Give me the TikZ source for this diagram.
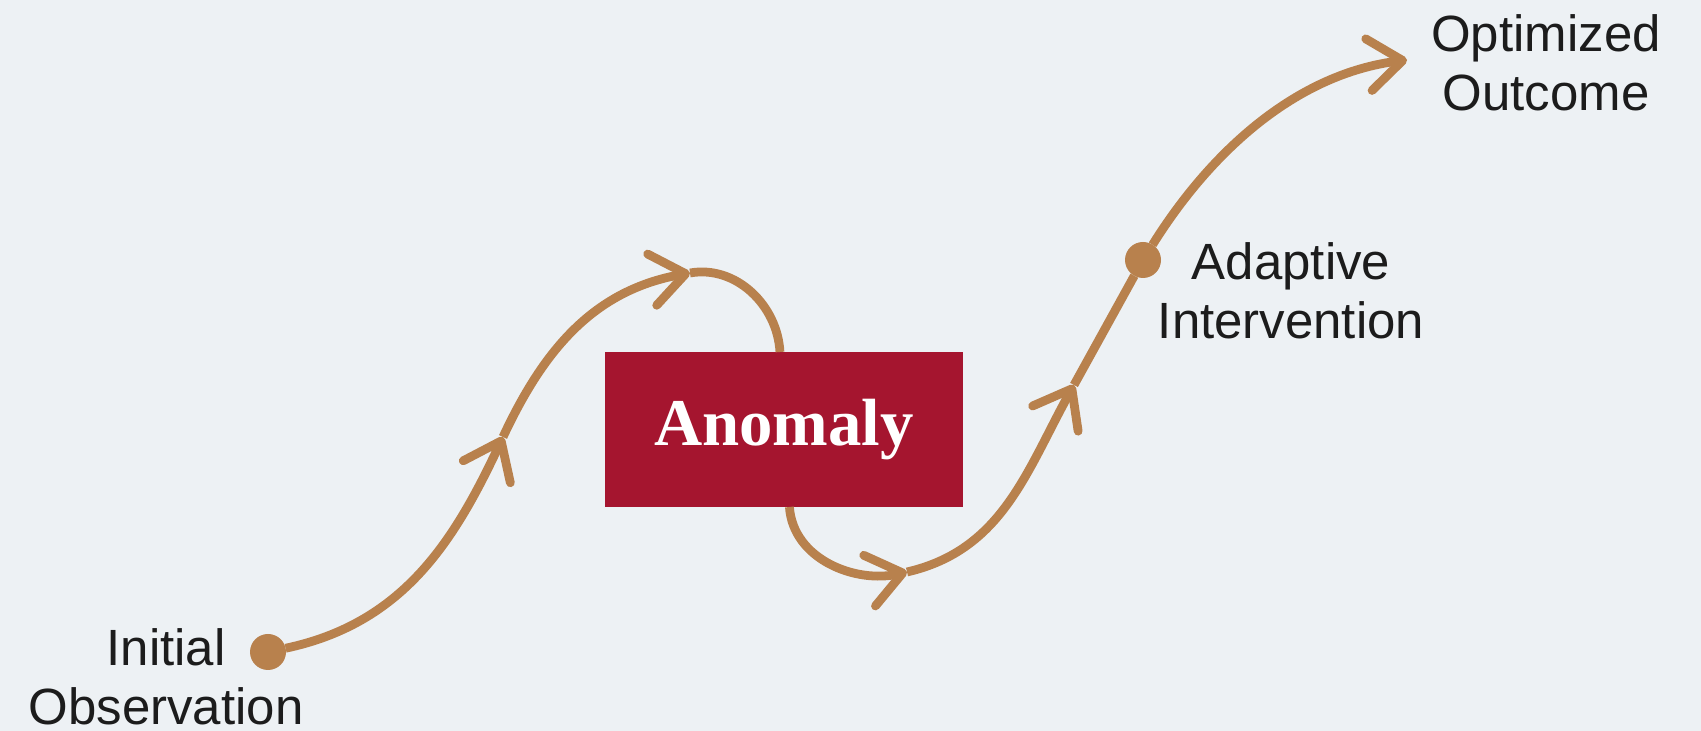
\documentclass[tikz,border=0pt]{standalone}
\usepackage{fontspec}
\setmainfont{Liberation Sans}
\newfontfamily\boxfont{Liberation Serif}
\usetikzlibrary{arrows.meta}

\definecolor{paper}{RGB}{237,241,244}
\definecolor{copper}{RGB}{184,129,77}
\definecolor{crimson}{RGB}{165,21,47}
\definecolor{ink}{RGB}{28,28,28}

\begin{document}
\begin{tikzpicture}[>={Straight Barb[length=0.34cm,width=0.52cm,round]},
  line width=2.5pt,
  dot/.style={circle,fill=copper,inner sep=0pt,outer sep=0pt,minimum size=0.36cm},
  alert/.style={rectangle,fill=crimson,text=white,inner sep=0pt,outer sep=0pt,
    minimum width=3.58cm,minimum height=1.55cm,
    font=\boxfont\bfseries\fontsize{19}{22}\selectfont},
  lbl/.style={align=center,text=ink,inner sep=0pt,
    font=\fontsize{14.5}{16.8}\selectfont},
  flow/.style={color=copper}]

  \fill[paper] (0,0) rectangle (17.01,7.31);
  \useasboundingbox (0,0) rectangle (17.01,7.31);

  \node[dot] (obs)   at (2.68,0.79) {};
  \node[dot] (adapt) at (11.43,4.71) {};
  \node[alert] (anom) at (7.84,3.015) {Anomaly};

  \coordinate (m1) at (5.03,2.94);
  \coordinate (m2) at (6.90,4.58);
  \coordinate (m3) at (9.07,1.59);
  \coordinate (m4) at (10.74,3.46);
  \coordinate (goal) at (14.07,6.71);

  \node[lbl] (obstext)   at (1.66,0.54)  {Initial\\Observation};
  \node[lbl] (adapttext) at (12.91,4.40) {Adaptive\\Intervention};
  \node[lbl] (goaltext)  at (15.46,6.68) {Optimized\\Outcome};

  % rise to the anomaly
  \path[flow,->]
    (obs) edge[out=12,in=245]  (m1)
    (m1)  edge[out=65,in=190]  (m2)
    (m2)  edge[-,out=10,in=93] (anom);

  % recovery after the anomaly
  \path[flow,->]
    (anom)  edge[out=-86,in=193] (m3)
    (m3)    edge[out=13,in=241]  (m4)
    (m4)    edge[-]              (adapt)
    (adapt) edge[out=58,in=187,looseness=0.9] (goal);

\end{tikzpicture}
\end{document}
